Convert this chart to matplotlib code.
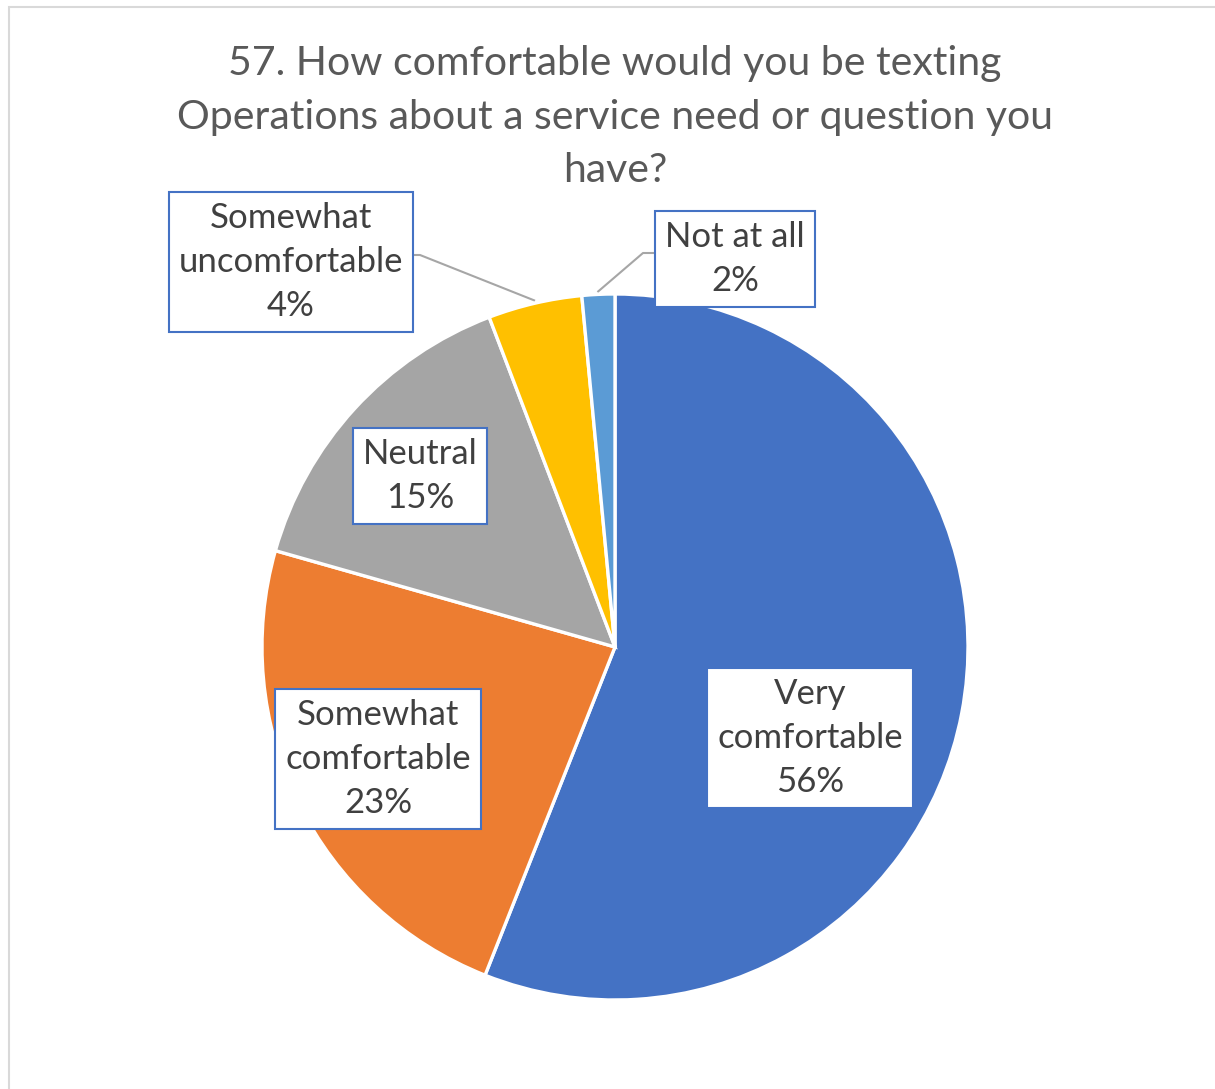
import numpy as np
import matplotlib
matplotlib.use("Agg")
from matplotlib import pyplot as plt
from matplotlib.patches import Rectangle

# survey answers (share of respondents, %)
categories = ["Very\ncomfortable", "Somewhat\ncomfortable", "Neutral",
              "Somewhat\nuncomfortable", "Not at all"]
values = [56.0, 23.4, 14.8, 4.3, 1.5]
colors = ["#4472C4", "#ED7D31", "#A5A5A5", "#FFC000", "#5B9BD5"]
title = "57. How comfortable would you be texting\nOperations about a service need or question you\nhave?"

W, H = 1215, 1089
plt.rcParams['font.family'] = ['Lato', 'DejaVu Sans']

fig = plt.figure(figsize=(W / 100, H / 100), dpi=100)
ax = fig.add_axes([0, 0, 1, 1])


def px(x, y):
    # pixel coords (top-left origin) -> data coords
    return x, H - y


cx, cy = px(615, 647)
r = 353
wedges, _ = ax.pie(values, colors=colors, startangle=90, counterclock=False,
                   center=(cx, cy), radius=r, frame=True,
                   wedgeprops=dict(edgecolor="white", linewidth=2.4))
ax.set_xlim(0, W)
ax.set_ylim(0, H)
ax.set_aspect('equal')
ax.axis('off')

# chart frame, cut at right and bottom like the screenshot
ax.add_patch(Rectangle(px(9, 1200), 1300, 1200 - 7, fill=False,
                       ec="#D9D9D9", lw=1.5))

ax.text(*px(615, 117), title, ha='center', va='center', fontsize=29.5,
        color="#595959", linespacing=1.56)

# label box centres (pixels)
label_pos = [(810, 738), (378, 759), (420, 476), (291, 262), (735, 259)]
total = sum(values)
for i, (cat, v) in enumerate(zip(categories, values)):
    txt = "%s\n%d%%" % (cat, round(v / total * 100))
    ax.text(*px(*label_pos[i]), txt, ha='center', va='center',
            multialignment='center', fontsize=25, color="#404040",
            linespacing=1.48,
            bbox=dict(boxstyle='square,pad=0.28', fc='white',
                      ec=colors[0], lw=1.5))


# leader lines for the two small slices
def edge_point(w, rr):
    theta = np.deg2rad((w.theta1 + w.theta2) / 2)
    return cx + rr * np.cos(theta), cy + rr * np.sin(theta)


x3, y3 = edge_point(wedges[3], r + 3)
ax.plot([411, 420, x3], [H - 255, H - 255, y3],
        color="#A6A6A6", lw=1.5, zorder=0.5)
x4, y4 = edge_point(wedges[4], r + 3)
ax.plot([658, 643, x4], [H - 253, H - 253, y4],
        color="#A6A6A6", lw=1.5, zorder=0.5)

fig.savefig("out.png", dpi=100, facecolor="white")
